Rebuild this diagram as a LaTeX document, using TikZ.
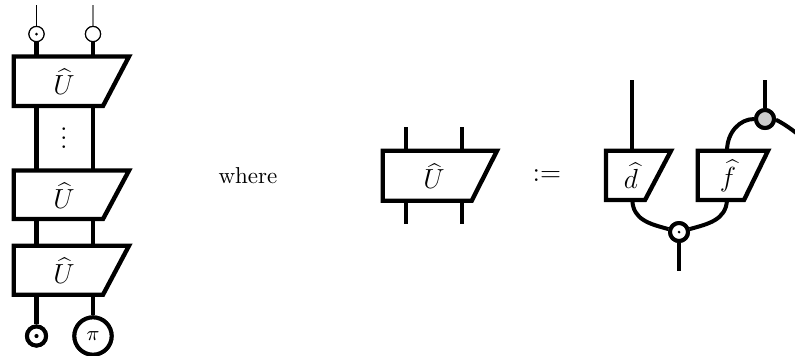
\documentclass[tikz,border=0pt]{standalone}
\usetikzlibrary{calc}
\tikzset{
  thickw/.style={line width=1.74pt,black},
  thinw/.style={line width=0.5pt,black},
  boxln/.style={line width=1.9pt,black,fill=white,miter limit=10},
  spider/.style={circle,draw=black,line width=1.74pt,fill=white,inner sep=0pt,minimum size=7.8pt},
  thinspider/.style={circle,draw=black,line width=0.5pt,fill=white,inner sep=0pt,minimum size=6.6pt},
  pidot/.style={circle,fill=black,inner sep=0pt,minimum size=1.3pt},
  lab/.style={inner sep=0pt}
}
% \trap{name}{left}{top}{slanted bottom right}{top right}{bottom}{text x}{text}
\newcommand{\trap}[8]{%
  \draw[boxln] (#2,#3) -- (#5,#3) -- (#4,#6) -- (#2,#6) -- cycle;
  \node[lab,font=\large] (#1) at (#7,{(#3+#6)/2+0.5}) {$#8$};
}
\begin{document}
\begin{tikzpicture}[x=0.4348pt,y=-0.4348pt]
\useasboundingbox (0,0) rectangle (795,355);
\begin{scope}
\clip (0,0) rectangle (795,355);
% coordinates on boxes and free ends
\foreach \n/\x/\y in {
 ta/36.5/5, tb/93/5, b1a/36.5/56, b1b/93/56, b1c/36.5/106, b1d/93/106,
 b2a/36.5/170, b2b/93/170, b2c/36.5/219, b2d/93/219,
 b3a/36.5/248, b3b/93/248, b3c/36.5/295, b3d/93/295,
 ma/405.7/127, mb/462.3/127, mc/405.7/224, md/462.3/224,
 mta/405.7/151, mtb/462.3/151, mba/405.7/201, mbb/462.3/201,
 dt/632.3/80, dtop/632.3/151, dbot/632.3/200, ftop/727/151, fbot/727/200,
 gt/765/80, gr/800/136, ob/679/271}
 {\coordinate (\n) at (\x,\y);}
% spiders
\node[thinspider] (s1) at (36.5,34) {};
\node[thinspider] (s2) at (93,34) {};
\node[spider,minimum size=8.3pt] (s3) at (36.5,336) {};
\node[spider,minimum size=16.2pt] (s4) at (93,336) {};
\node[spider] (g) at (765,119) {};
\node[spider] (o) at (679,232) {};
% wires
\draw[thinw] (ta)--(s1);
\draw[thinw,gray] (tb)--(s2);
\draw[thickw] (s1)--(b1a);
\draw[thickw] (s2)--(b1b);
\draw[thickw] (b1c)--(b2a);
\draw[thickw] (b1d)--(b2b);
\draw[thickw] (b2c)--(b3a);
\draw[thickw] (b2d)--(b3b);
\draw[thickw] (b3c)--(s3);
\draw[thickw] (b3d)--(s4);
\draw[thickw] (ma)--(mta);
\draw[thickw] (mb)--(mtb);
\draw[thickw] (mba)--(mc);
\draw[thickw] (mbb)--(md);
\draw[thickw] (dt)--(dtop);
\draw[thickw] (gt)--(g);
\draw[thickw] (o)--(ob);
\draw[thickw] (ftop) .. controls (727,132) and (740,119) .. (g);
\draw[thickw] (g) .. controls (777,120) and (788,126) .. (gr);
\draw[thickw] (dbot) .. controls (633,220) and (650,224) .. (o);
\draw[thickw] (fbot) .. controls (726,220) and (708,224) .. (o);
% redraw spiders over wires
\node[thinspider] at (s1) {};
\node[thinspider] at (s2) {};
\node[spider,minimum size=8.3pt] at (s3) {};
\node[spider,minimum size=16.2pt,font=\small] at (s4) {$\pi$};
\node[spider,fill=black!20] at (g) {};
\node[spider] at (o) {};
\node[pidot] (p1) at (36.5,34) {};
\node[pidot,minimum size=1.8pt] (p3) at (36.5,336) {};
\node[pidot] (p5) at (679,232) {};
% boxes
\trap{u1}{13.7}{56.5}{103}{129}{106}{64}{\widehat{U}}
\trap{u2}{13.7}{170.5}{103}{129}{219}{64}{\widehat{U}}
\trap{u3}{13.7}{245.7}{103}{129}{294.7}{64}{\widehat{U}}
\trap{um}{382.7}{150.7}{471.7}{497}{200.7}{434}{\widehat{U}}
\trap{ud}{606}{150.7}{645}{671}{200}{631}{\widehat{d}}
\trap{uf}{697.7}{150.7}{744}{768}{200}{728}{\widehat{f}}
% text
\node[lab,font=\large] (dots) at (64,131) {$\vdots$};
\node[lab] (wh) at (248,176) {where};
\node[lab,font=\large] (def) at (547,176) {$:=$};
\end{scope}
\end{tikzpicture}
\end{document}
